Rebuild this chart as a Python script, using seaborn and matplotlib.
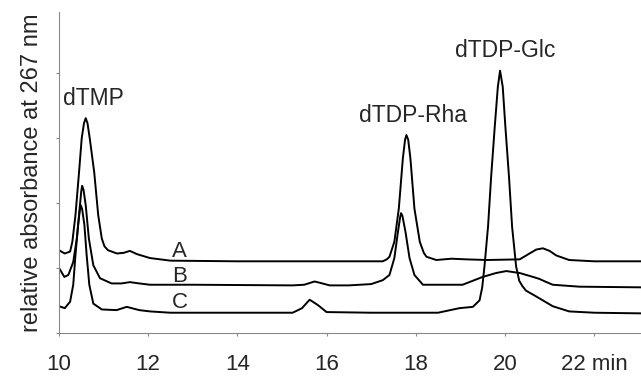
import pandas as pd
import numpy as np
import matplotlib
matplotlib.use("Agg")
import matplotlib.pyplot as plt
import matplotlib.transforms as mtransforms
import seaborn as sns

# Chromatogram traces (time in min, relative absorbance)
time_a = [10.0, 10.13, 10.25, 10.30, 10.37, 10.45, 10.51, 10.56, 10.60, 10.64, 10.69,
          10.79, 10.88, 10.96, 11.02, 11.1, 11.3, 11.45, 11.59, 11.75, 12.04, 12.5, 14.0,
          16.0, 17.1, 17.26, 17.35, 17.41, 17.52, 17.62, 17.71, 17.76, 17.79, 17.83,
          17.88, 17.97, 18.09, 18.18, 18.24, 18.46, 18.8, 19.13, 19.6, 20.33, 20.55,
          20.7, 20.85, 21.0, 21.15, 21.44, 22.0, 23.05]
abs_a = [1.27, 1.22, 1.25, 1.40, 1.81, 2.47, 2.99, 3.22, 3.30, 3.22, 2.99,
         2.47, 1.81, 1.45, 1.33, 1.27, 1.22, 1.23, 1.26, 1.21, 1.15, 1.11, 1.10,
         1.10, 1.10, 1.10, 1.13, 1.17, 1.40, 1.91, 2.68, 2.97, 3.04, 2.97,
         2.68, 1.91, 1.40, 1.23, 1.17, 1.12, 1.14, 1.13, 1.12, 1.13, 1.22,
         1.28, 1.30, 1.26, 1.19, 1.12, 1.10, 1.10]

time_b = [10.0, 10.12, 10.21, 10.32, 10.40, 10.47, 10.50, 10.52, 10.55, 10.60, 10.67,
          10.77, 10.92, 11.18, 11.4, 11.59, 11.8, 12.04, 13.0, 15.24, 15.5, 15.73, 15.85,
          16.07, 16.5, 17.0, 17.26, 17.41, 17.52, 17.60, 17.65, 17.67, 17.70, 17.77,
          17.86, 17.97, 18.16, 18.31, 19.05, 19.5, 19.8, 20.03, 20.33, 20.63, 20.77,
          20.9, 21.07, 21.67, 23.05]
abs_b = [1.0, 0.86, 0.89, 1.09, 1.45, 1.96, 2.18, 2.26, 2.20, 1.96, 1.45,
         1.04, 0.84, 0.76, 0.76, 0.78, 0.76, 0.74, 0.74, 0.73, 0.74, 0.79, 0.77,
         0.73, 0.73, 0.75, 0.81, 0.89, 1.15, 1.55, 1.78, 1.84, 1.80, 1.55,
         1.15, 0.89, 0.74, 0.74, 0.74, 0.86, 0.92, 0.95, 0.92, 0.86, 0.83,
         0.79, 0.74, 0.71, 0.70]

time_c = [10.0, 10.13, 10.25, 10.32, 10.37, 10.43, 10.47, 10.49, 10.52, 10.57, 10.62,
          10.68, 10.77, 10.96, 11.29, 11.52, 11.8, 12.04, 12.5, 14.0, 15.24, 15.45, 15.62,
          15.8, 16.0, 17.0, 18.5, 18.98, 19.28, 19.43, 19.49, 19.54, 19.62, 19.69, 19.77,
          19.84, 19.89, 19.95, 20.01, 20.09, 20.16, 20.25, 20.32, 20.39, 20.47, 20.70,
          21.07, 21.44, 22.0, 23.05]
abs_c = [0.41, 0.38, 0.48, 0.74, 1.20, 1.66, 1.90, 1.96, 1.90, 1.66, 1.20,
         0.74, 0.45, 0.36, 0.35, 0.40, 0.35, 0.33, 0.31, 0.31, 0.31, 0.38, 0.51,
         0.43, 0.32, 0.31, 0.31, 0.38, 0.40, 0.50, 0.70, 1.02, 1.63, 2.40, 3.16,
         3.78, 4.03, 3.78, 3.16, 2.40, 1.63, 1.02, 0.80, 0.72, 0.65, 0.56,
         0.41, 0.33, 0.31, 0.30]

tick_pos = [10, 12, 14, 16, 18, 20, 22]
tick_labels = ["10", "12", "14", "16", "18", "20", "22 min"]

peak_names = ["dTMP", "dTDP-Rha", "dTDP-Glc"]
trace_names = ["A", "B", "C"]

df = pd.concat([
    pd.DataFrame({"time": time_a, "absorbance": abs_a, "trace": "A"}),
    pd.DataFrame({"time": time_b, "absorbance": abs_b, "trace": "B"}),
    pd.DataFrame({"time": time_c, "absorbance": abs_c, "trace": "C"}),
])

sns.set_style("white")
plt.rcParams["font.family"] = ["Liberation Sans", "DejaVu Sans"]

fig = plt.figure(figsize=(6.41, 3.77), dpi=100)
ax = fig.add_axes([0.092, 0.117, 0.908, 0.851])

sns.lineplot(data=df, x="time", y="absorbance", hue="trace", units="trace",
             estimator=None, sort=False, palette=["black"] * 3, linewidth=1.4,
             legend=False, ax=ax)

ax.set_xlim(10, 23.05)
ax.set_ylim(0, 4.93)
ax.set_yticks([0, 1, 2, 3, 4])
ax.set_yticklabels([])
ax.set_xticks(tick_pos)
ax.set_xticklabels(tick_labels, fontsize=16)
shift = mtransforms.ScaledTranslation(9 / 100, 0, fig.dpi_scale_trans)
last = ax.get_xticklabels()[-1]
last.set_transform(last.get_transform() + shift)

ax.tick_params(axis="both", direction="out", length=2, width=0.8, color="#888888",
               left=True, bottom=True)
ax.tick_params(axis="x", pad=13)
ax.set_xlabel("")
ax.set_ylabel("relative absorbance at 267 nm", fontsize=17, labelpad=6)
sns.despine(ax=ax)
for side in ["left", "bottom"]:
    ax.spines[side].set_color("#888888")
    ax.spines[side].set_linewidth(0.8)

# peak labels
ax.text(10.77, 3.6, peak_names[0], fontsize=16.5, ha="center", va="center")
ax.text(17.93, 3.34, peak_names[1], fontsize=16.5, ha="center", va="center")
ax.text(20.0, 4.34, peak_names[2], fontsize=16.5, ha="center", va="center")

# trace labels
ax.text(12.71, 1.25, trace_names[0], fontsize=16, ha="center", va="center")
ax.text(12.71, 0.86, trace_names[1], fontsize=16, ha="center", va="center")
ax.text(12.71, 0.46, trace_names[2], fontsize=16, ha="center", va="center")

fig.savefig("out.png", dpi=100)
